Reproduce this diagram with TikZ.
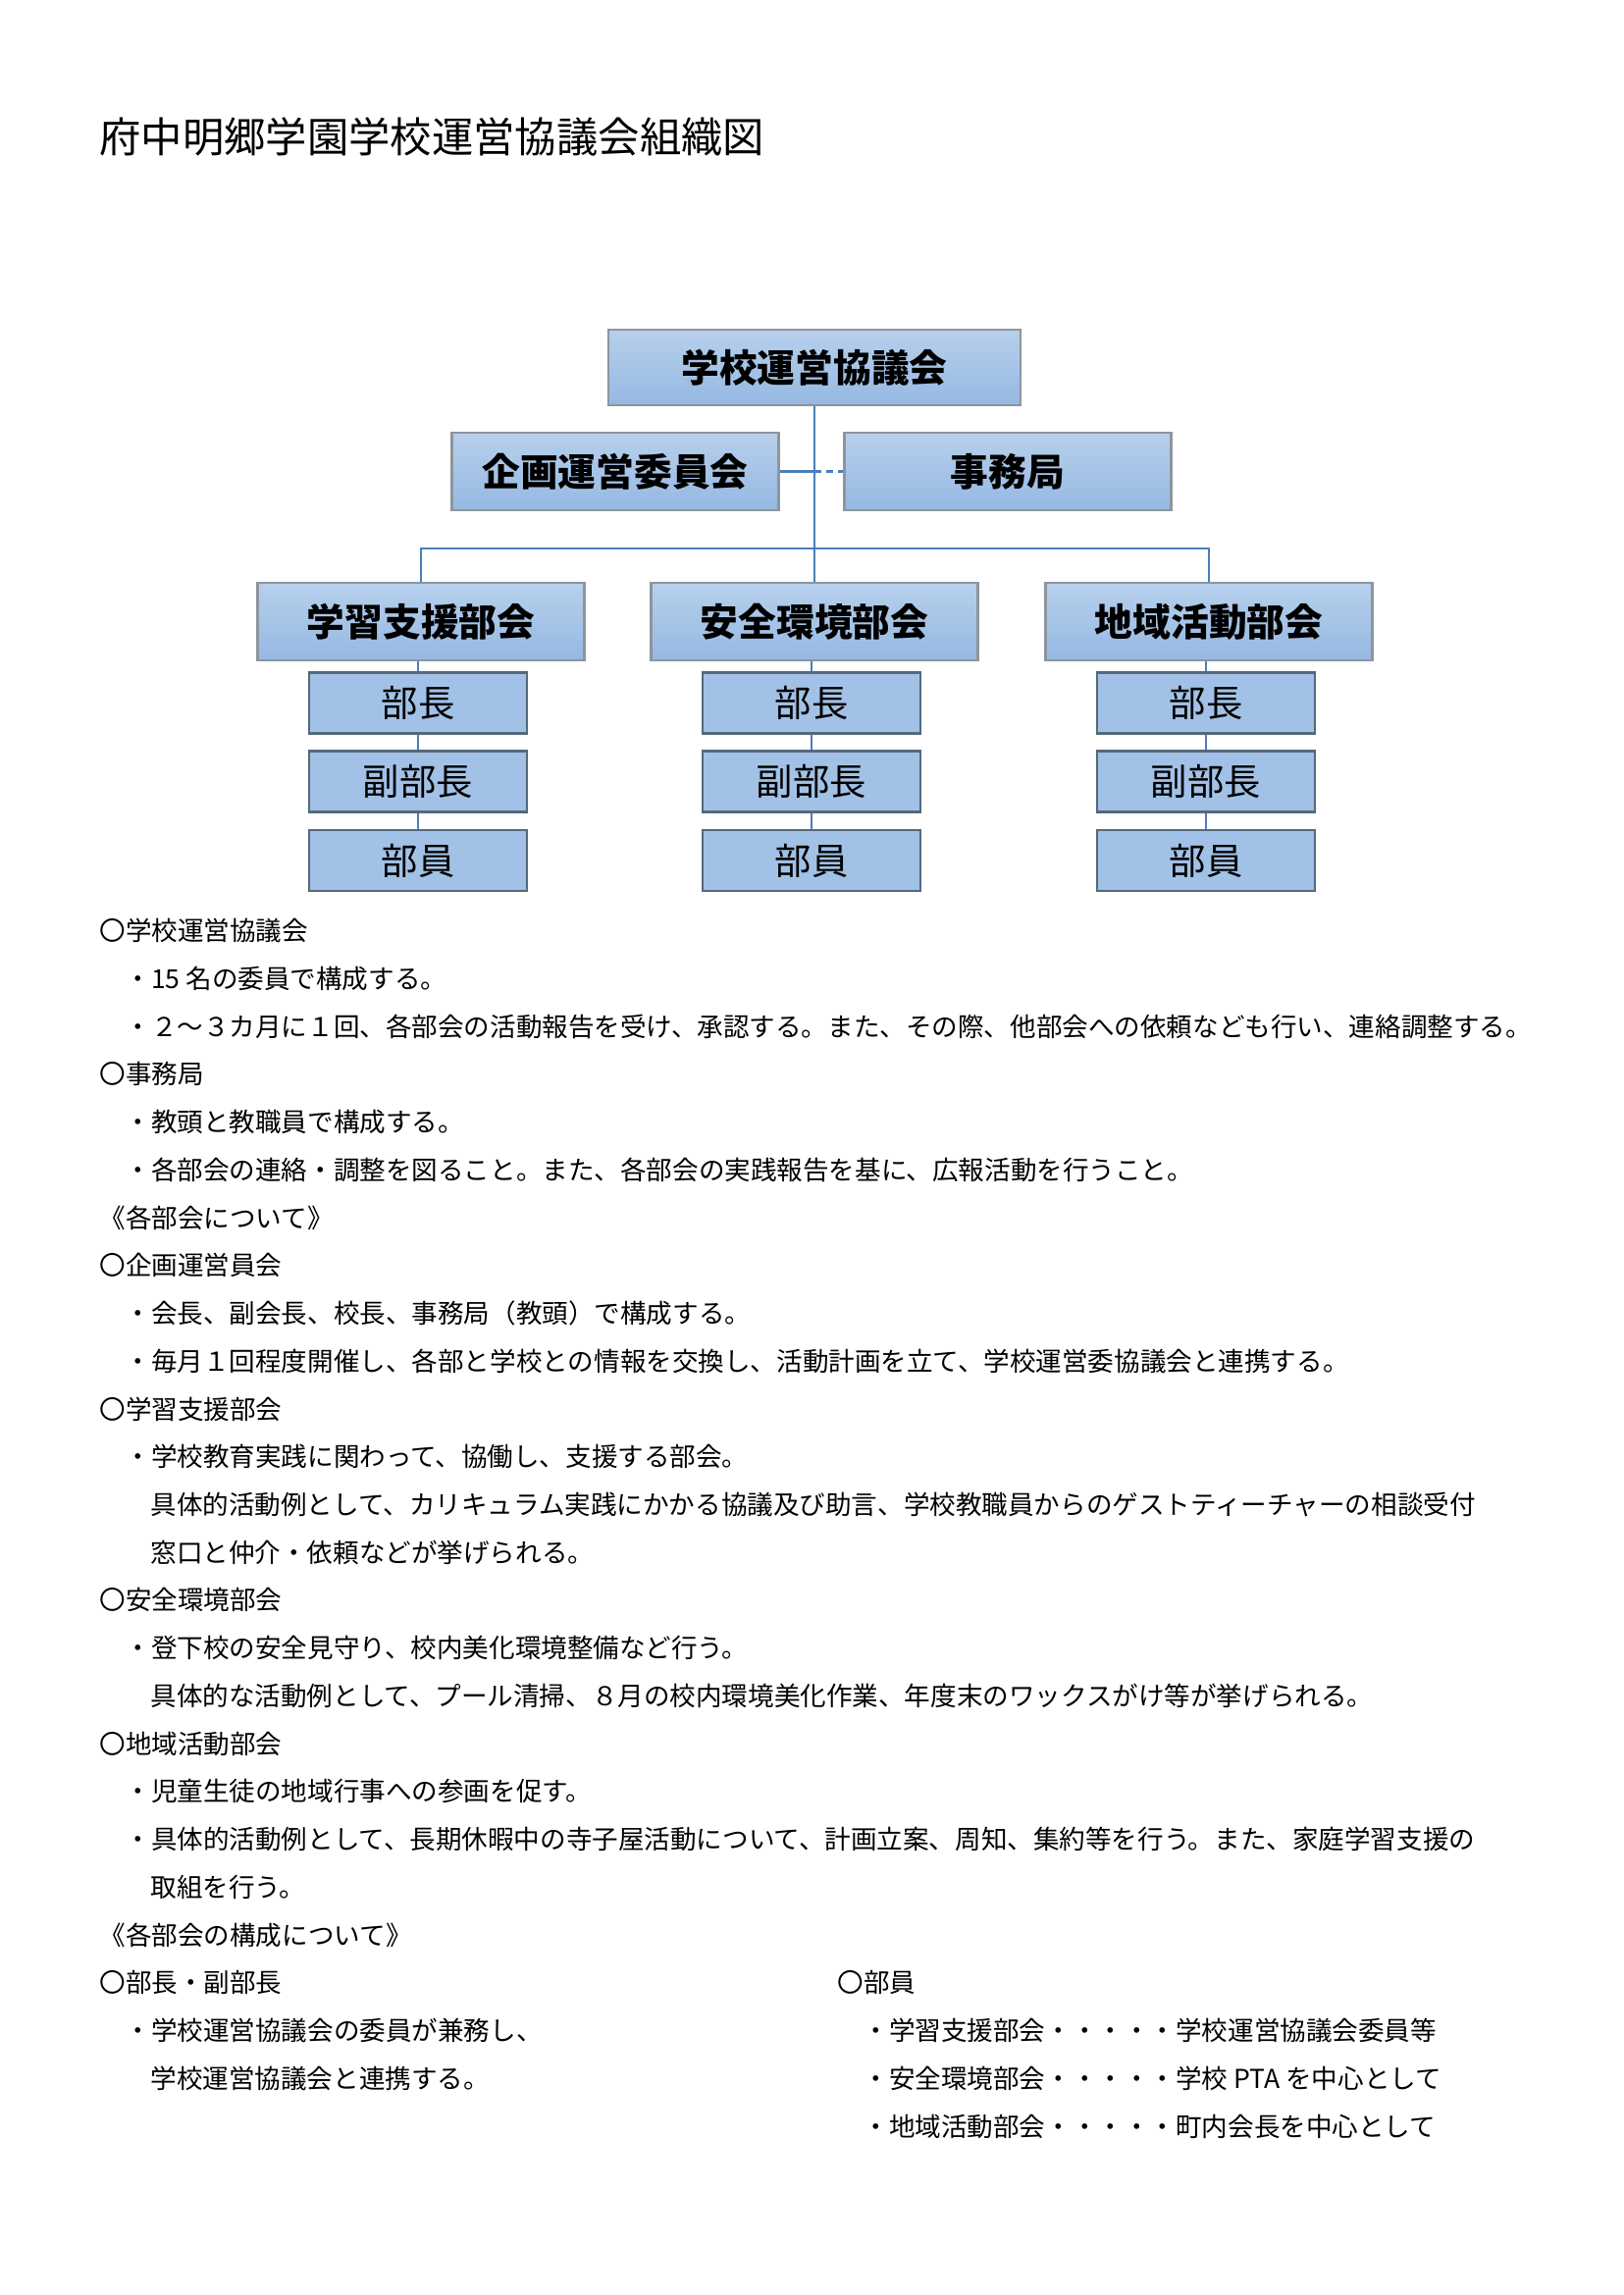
\documentclass[tikz,border=0pt]{standalone}
\usepackage{fontspec}
\setmainfont{Noto Sans CJK JP}
\definecolor{boxtop}{HTML}{B7D0EC}
\definecolor{boxbot}{HTML}{95B8E2}
\definecolor{boxline}{HTML}{8E959C}
\definecolor{postfill}{HTML}{A2C1E6}
\definecolor{postline}{HTML}{56687C}
\definecolor{linkblue}{HTML}{4A7EBB}
\begin{document}
\begin{tikzpicture}[x=0.127mm,y=-0.127mm,
  head/.style={draw=boxline,line width=0.8pt,top color=boxtop,bottom color=boxbot,minimum width=42.3mm,minimum height=10mm,inner sep=0pt,font=\fontsize{14}{16}\selectfont\bfseries},
  post/.style={draw=postline,line width=0.8pt,fill=postfill,minimum width=28.2mm,minimum height=7.9mm,inner sep=0pt,font=\fontsize{13.5}{15}\selectfont},
  link/.style={draw=linkblue,line width=0.9pt},
  txt/.style={anchor=base west,inner sep=0pt,font=\fontsize{9.6}{12}\selectfont}]
  \useasboundingbox (0,0) rectangle (1654,2339);
  \node[anchor=base west,inner sep=0pt,font=\fontsize{15.3}{19}\selectfont] (title) at (101,156){府中明郷学園学校運営協議会組織図};
  % chart
  \node[head,minimum width=53.3mm,minimum height=9.8mm] (top) at (830,374.5){学校運営協議会};
  \node[head] (kikaku) at (627,480.5){企画運営委員会};
  \node[head] (jimu) at (1027,480.5){事務局};
  \node[head] (gakushu) at (429,633.5){学習支援部会};
  \node[head] (anzen) at (830,633.5){安全環境部会};
  \node[head] (chiiki) at (1232,633.5){地域活動部会};
  \node[post] (g1) at (426,716.5){部長};
  \node[post] (g2) at (426,796.5){副部長};
  \node[post] (g3) at (426,877){部員};
  \node[post] (a1) at (827,716.5){部長};
  \node[post] (a2) at (827,796.5){副部長};
  \node[post] (a3) at (827,877){部員};
  \node[post] (c1) at (1229,716.5){部長};
  \node[post] (c2) at (1229,796.5){副部長};
  \node[post] (c3) at (1229,877){部員};
  \coordinate (hub) at (830,559);
  \coordinate (mid) at (830,480.5);
  \draw[link] (top.south) -- (hub) (gakushu.north) |- (hub) -| (chiiki.north) (hub) -- (anzen.north);
  \draw[link] (kikaku.east) -- (mid);
  \draw[link,dash pattern=on 2.6pt off 1.8pt] (mid) -- (jimu.west);
  \draw[link] (gakushu.south -| g1.north) -- (g1.north) (g1) -- (g2) (g2) -- (g3);
  \draw[link] (anzen.south -| a1.north) -- (a1.north) (a1) -- (a2) (a2) -- (a3);
  \draw[link] (chiiki.south -| c1.north) -- (c1.north) (c1) -- (c2) (c2) -- (c3);
  % text
  \node[txt] (l0) at (101,958.5){〇学校運営協議会};
  \node[txt] (l1) at (127,1007.2){・15 名の委員で構成する。};
  \node[txt] (l2) at (127,1056){・２～３カ月に１回、各部会の活動報告を受け、承認する。また、その際、他部会への依頼なども行い、連絡調整する。};
  \node[txt] (l3) at (101,1104.7){〇事務局};
  \node[txt] (l4) at (127,1153.5){・教頭と教職員で構成する。};
  \node[txt] (l5) at (127,1202.2){・各部会の連絡・調整を図ること。また、各部会の実践報告を基に、広報活動を行うこと。};
  \node[txt] (l6) at (101,1251){《各部会について》};
  \node[txt] (l7) at (101,1299.7){〇企画運営員会};
  \node[txt] (l8) at (127,1348.4){・会長、副会長、校長、事務局（教頭）で構成する。};
  \node[txt] (l9) at (127,1397.2){・毎月１回程度開催し、各部と学校との情報を交換し、活動計画を立て、学校運営委協議会と連携する。};
  \node[txt] (l10) at (101,1446){〇学習支援部会};
  \node[txt] (l11) at (127,1494.6){・学校教育実践に関わって、協働し、支援する部会。};
  \node[txt] (l12) at (153,1543.4){具体的活動例として、カリキュラム実践にかかる協議及び助言、学校教職員からのゲストティーチャーの相談受付};
  \node[txt] (l13) at (153,1592.1){窓口と仲介・依頼などが挙げられる。};
  \node[txt] (l14) at (101,1640.9){〇安全環境部会};
  \node[txt] (l15) at (127,1689.6){・登下校の安全見守り、校内美化環境整備など行う。};
  \node[txt] (l16) at (153,1738.3){具体的な活動例として、プール清掃、８月の校内環境美化作業、年度末のワックスがけ等が挙げられる。};
  \node[txt] (l17) at (101,1787.1){〇地域活動部会};
  \node[txt] (l18) at (127,1835.8){・児童生徒の地域行事への参画を促す。};
  \node[txt] (l19) at (127,1884.6){・具体的活動例として、長期休暇中の寺子屋活動について、計画立案、周知、集約等を行う。また、家庭学習支援の};
  \node[txt] (l20) at (153,1933.3){取組を行う。};
  \node[txt] (l21) at (101,1982){《各部会の構成について》};
  \node[txt] (l22) at (101,2030.8){〇部長・副部長};
  \node[txt] (l23) at (127,2079.5){・学校運営協議会の委員が兼務し、};
  \node[txt] (l24) at (153,2128.3){学校運営協議会と連携する。};
  \node[txt] (r0) at (853,2030.8){〇部員};
  \node[txt] (r1) at (879,2079.5){・学習支援部会・・・・・学校運営協議会委員等};
  \node[txt] (r2) at (879,2128.3){・安全環境部会・・・・・学校 PTA を中心として};
  \node[txt] (r3) at (879,2177){・地域活動部会・・・・・町内会長を中心として};
\end{tikzpicture}
\end{document}
